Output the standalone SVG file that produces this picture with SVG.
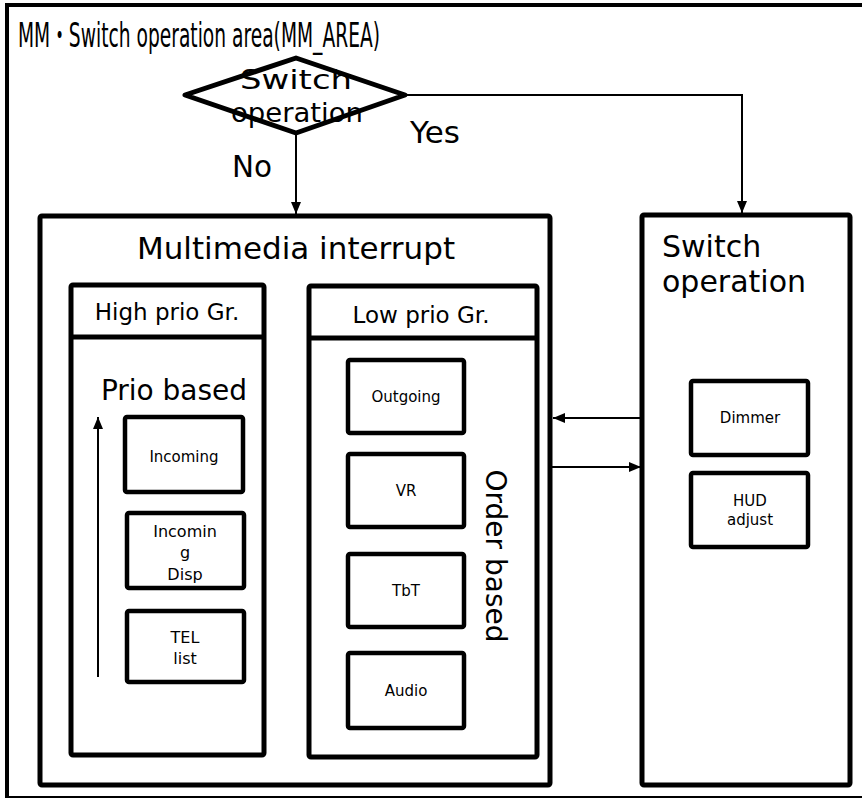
<svg xmlns="http://www.w3.org/2000/svg" width="862" height="798" viewBox="0 0 862 798">
<style>
.box{fill:none;stroke:#000;stroke-width:5;stroke-linejoin:round}
.sbox{fill:none;stroke:#000;stroke-width:4.5;stroke-linejoin:round}
.ln{fill:none;stroke:#000;stroke-width:2}
text{font-family:"DejaVu Sans","Noto Sans CJK JP",sans-serif;fill:#000}
.c{text-anchor:middle}
.sm{font-size:15px}
.md{font-size:23px}
.lg{font-size:28px}
</style>
<defs>
<marker id="ah" viewBox="0 0 12 10" refX="12" refY="5" markerWidth="12" markerHeight="10" markerUnits="userSpaceOnUse" orient="auto">
<path d="M0,0 L12,5 L0,10 Z" fill="#000"/>
</marker>
</defs>
<rect width="862" height="798" fill="#fff"/>
<g id="area">
<rect x="7" y="5" width="870" height="793" fill="none" stroke="#000" stroke-width="4"/>
<text x="18" y="47" font-size="33" textLength="362" lengthAdjust="spacingAndGlyphs">MM・Switch operation area(MM_AREA)</text>
</g>
<g id="decision">
<polygon points="185,95 296,58 405,95 296,133" fill="none" stroke="#000" stroke-width="5" stroke-linejoin="round"/>
<text x="296" y="89" class="c" font-size="26" textLength="112" lengthAdjust="spacingAndGlyphs">Switch</text>
<text x="297" y="122" class="c" font-size="26" textLength="132" lengthAdjust="spacingAndGlyphs">operation</text>
</g>
<g id="connectors">
<polyline class="ln" points="405,95 742,95 742,213" marker-end="url(#ah)"/>
<line class="ln" x1="296" y1="133" x2="296" y2="214" marker-end="url(#ah)"/>
<line class="ln" x1="642" y1="418" x2="553" y2="418" marker-end="url(#ah)"/>
<line class="ln" x1="552" y1="467" x2="641" y2="467" marker-end="url(#ah)"/>
<line class="ln" x1="98" y1="677" x2="98" y2="417" marker-end="url(#ah)"/>
<text x="410" y="143" font-size="31" textLength="50" lengthAdjust="spacingAndGlyphs">Yes</text>
<text x="232" y="177" font-size="31" textLength="40" lengthAdjust="spacingAndGlyphs">No</text>
</g>
<g id="multimedia">
<rect class="box" x="40" y="216" width="510" height="569" rx="2"/>
<text x="296" y="259" class="c" font-size="31">Multimedia interrupt</text>
</g>
<g id="high-prio">
<rect class="box" x="71" y="285" width="193" height="470" rx="2"/>
<line x1="71" y1="337" x2="264" y2="337" stroke="#000" stroke-width="5"/>
<text x="167" y="320" class="c md">High prio Gr.</text>
<text x="174" y="400" class="c lg">Prio based</text>
</g>
<g id="incoming"><rect class="sbox" x="125" y="417" width="118" height="75" rx="2"/><text x="184" y="462" class="c sm">Incoming</text></g>
<g id="incoming-disp"><rect class="sbox" x="127" y="513" width="117" height="75" rx="2"/>
<text x="185" y="537" class="c" font-size="16">Incomin</text><text x="185" y="558" class="c" font-size="16">g</text><text x="185" y="580" class="c" font-size="16">Disp</text></g>
<g id="tel-list"><rect class="sbox" x="127" y="611" width="117" height="71" rx="2"/>
<text x="185" y="643" class="c" font-size="16">TEL</text><text x="185" y="664" class="c" font-size="16">list</text></g>
<g id="low-prio">
<rect class="box" x="309" y="286" width="228" height="471" rx="2"/>
<line x1="309" y1="338" x2="537" y2="338" stroke="#000" stroke-width="5"/>
<text x="421" y="323" class="c md">Low prio Gr.</text>
<text transform="translate(486,556) rotate(90)" class="c lg">Order based</text>
</g>
<g id="outgoing"><rect class="sbox" x="348" y="360" width="116" height="73" rx="2"/><text x="406" y="402" class="c sm">Outgoing</text></g>
<g id="vr"><rect class="sbox" x="348" y="454" width="116" height="73" rx="2"/><text x="406" y="496" class="c sm">VR</text></g>
<g id="tbt"><rect class="sbox" x="348" y="554" width="116" height="73" rx="2"/><text x="406" y="596" class="c sm">TbT</text></g>
<g id="audio"><rect class="sbox" x="348" y="653" width="116" height="75" rx="2"/><text x="406" y="696" class="c sm">Audio</text></g>
<g id="switch-op">
<rect class="box" x="642" y="215" width="208" height="570" rx="2"/>
<text x="662" y="257" font-size="30">Switch</text>
<text x="662" y="292" font-size="30">operation</text>
</g>
<g id="dimmer"><rect class="sbox" x="691" y="381" width="117" height="74" rx="2"/><text x="750" y="423" class="c sm">Dimmer</text></g>
<g id="hud"><rect class="sbox" x="691" y="473" width="117" height="74" rx="2"/>
<text x="750" y="506" class="c sm">HUD</text><text x="750" y="525" class="c sm">adjust</text></g>
</svg>
